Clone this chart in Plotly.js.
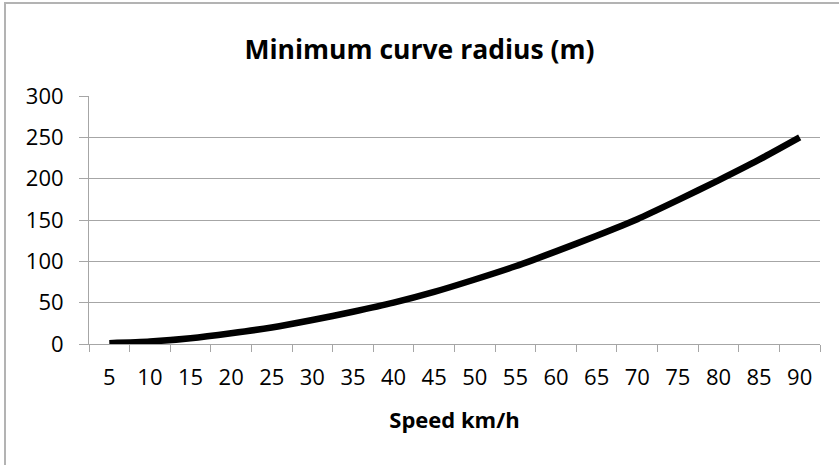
<!DOCTYPE html>
<html>
<head>
<meta charset="utf-8">
<script src="https://cdn.plot.ly/plotly-3.0.1.min.js"></script>
<style>
  html, body { margin: 0; padding: 0; background: #fff; }
  #wrap { position: relative; width: 839px; height: 465px; overflow: hidden; }
  #chart { position: absolute; left: 0; top: 0; width: 839px; height: 465px; }
  #frame { position: absolute; left: 4px; top: 2px; width: 900px; height: 500px;
           border-left: 2px solid #b3b3b3; border-top: 2px solid #b3b3b3; pointer-events: none; }
</style>
</head>
<body>
<div id="wrap">
  <div id="chart"></div>
  <div id="frame"></div>
</div>
<script>
const speeds = ["5","10","15","20","25","30","35","40","45","50","55","60","65","70","75","80","85","90"];
const radius = [1, 3, 7, 13, 20, 29, 39, 50, 63, 78, 94, 112, 131, 151, 174, 198, 223, 250];
const yTicks = [0, 50, 100, 150, 200, 250, 300];

const FONT = "Open Sans, Lato, sans-serif";

const trace = {
  type: "scatter",
  mode: "lines",
  x: speeds,
  y: radius,
  line: { color: "#000000", width: 6.5, shape: "spline", smoothing: 0.6 },
  hoverinfo: "x+y",
  showlegend: false
};

const layout = {
  width: 839,
  height: 465,
  margin: { l: 89, r: 19, t: 96, b: 121, pad: 0 },
  paper_bgcolor: "#ffffff",
  plot_bgcolor: "#ffffff",
  title: {
    text: "<b>Minimum curve radius (m)</b>",
    font: { family: FONT, size: 26.5, color: "#000000" },
    x: 0.5, xanchor: "center",
    y: 1 - 50 / 465, yanchor: "middle"
  },
  xaxis: {
    type: "category",
    range: [-0.5, 17.5],
    tickson: "boundaries",
    ticks: "outside",
    ticklen: 7,
    tickcolor: "#a6a6a6",
    tickwidth: 1,
    showline: true,
    linecolor: "#a6a6a6",
    linewidth: 1,
    showgrid: false,
    zeroline: false,
    tickfont: { family: FONT, size: 22, color: "#000000" },
    ticklabelstandoff: 14,
    title: {
      text: "<b>Speed km/h</b>",
      font: { family: FONT, size: 22, color: "#000000" },
      standoff: 22
    },
    fixedrange: true
  },
  yaxis: {
    range: [0, 300],
    tickvals: yTicks,
    ticktext: yTicks.map(String),
    ticks: "outside",
    ticklen: 9,
    tickcolor: "#a6a6a6",
    tickwidth: 1,
    showline: true,
    linecolor: "#a6a6a6",
    linewidth: 1,
    showgrid: true,
    gridcolor: "#a6a6a6",
    gridwidth: 1,
    zeroline: false,
    tickfont: { family: FONT, size: 22, color: "#000000" },
    ticklabelstandoff: 11,
    fixedrange: true
  }
};

Plotly.newPlot("chart", [trace], layout, { displayModeBar: false, staticPlot: true });
</script>
</body>
</html>
